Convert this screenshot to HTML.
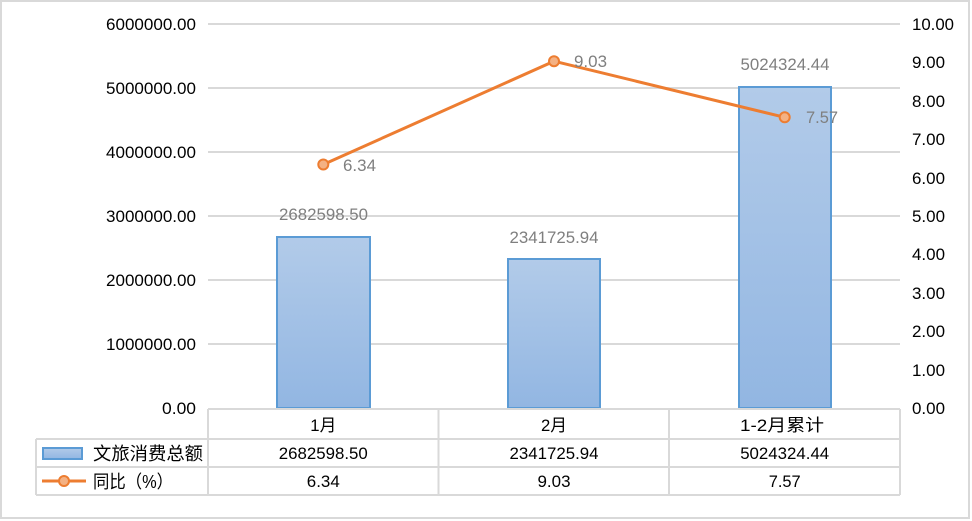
<!DOCTYPE html>
<html><head><meta charset="utf-8"><style>
html,body{margin:0;padding:0;background:#fff;}
svg{display:block;}
text{font-family:"Liberation Sans","Noto Sans CJK SC",sans-serif;}
</style></head><body>
<svg width="972" height="521" viewBox="0 0 972 521" xmlns="http://www.w3.org/2000/svg">
<defs>
<linearGradient id="g" x1="0" y1="0" x2="0" y2="1">
<stop offset="0" stop-color="#b2cbe9"/>
<stop offset="1" stop-color="#92b6e2"/>
</linearGradient>
</defs>
<rect x="1" y="1" width="968" height="517" fill="#fff" stroke="#d9d9d9" stroke-width="2"/>
<!-- gridlines -->
<g stroke="#d9d9d9" stroke-width="2">
<line x1="208" y1="24" x2="900" y2="24"/>
<line x1="208" y1="88" x2="900" y2="88"/>
<line x1="208" y1="152" x2="900" y2="152"/>
<line x1="208" y1="216" x2="900" y2="216"/>
<line x1="208" y1="280" x2="900" y2="280"/>
<line x1="208" y1="344" x2="900" y2="344"/>
</g>
<!-- left axis labels -->
<g font-size="17" fill="#000" text-anchor="end">
<text x="196" y="30" textLength="90" lengthAdjust="spacingAndGlyphs">6000000.00</text>
<text x="196" y="94" textLength="90" lengthAdjust="spacingAndGlyphs">5000000.00</text>
<text x="196" y="158" textLength="90" lengthAdjust="spacingAndGlyphs">4000000.00</text>
<text x="196" y="222" textLength="90" lengthAdjust="spacingAndGlyphs">3000000.00</text>
<text x="196" y="286" textLength="90" lengthAdjust="spacingAndGlyphs">2000000.00</text>
<text x="196" y="350" textLength="90" lengthAdjust="spacingAndGlyphs">1000000.00</text>
<text x="196" y="414" textLength="34" lengthAdjust="spacingAndGlyphs">0.00</text>
</g>
<!-- right axis labels -->
<g font-size="17" fill="#000" text-anchor="start">
<text x="912" y="30" textLength="42" lengthAdjust="spacingAndGlyphs">10.00</text>
<text x="912" y="68" textLength="33" lengthAdjust="spacingAndGlyphs">9.00</text>
<text x="912" y="107" textLength="33" lengthAdjust="spacingAndGlyphs">8.00</text>
<text x="912" y="145" textLength="33" lengthAdjust="spacingAndGlyphs">7.00</text>
<text x="912" y="184" textLength="33" lengthAdjust="spacingAndGlyphs">6.00</text>
<text x="912" y="222" textLength="33" lengthAdjust="spacingAndGlyphs">5.00</text>
<text x="912" y="260" textLength="33" lengthAdjust="spacingAndGlyphs">4.00</text>
<text x="912" y="299" textLength="33" lengthAdjust="spacingAndGlyphs">3.00</text>
<text x="912" y="337" textLength="33" lengthAdjust="spacingAndGlyphs">2.00</text>
<text x="912" y="376" textLength="33" lengthAdjust="spacingAndGlyphs">1.00</text>
<text x="912" y="414" textLength="33" lengthAdjust="spacingAndGlyphs">0.00</text>
</g>
<!-- bars -->
<g stroke="#5b9bd5" stroke-width="2" fill="url(#g)">
<rect x="277" y="237" width="93" height="171"/>
<rect x="508" y="259" width="92" height="149"/>
<rect x="739" y="87" width="92" height="321"/>
</g>
<!-- bar labels -->
<g font-size="17" fill="#7f7f7f" text-anchor="middle">
<text x="323.5" y="220" textLength="89" lengthAdjust="spacingAndGlyphs">2682598.50</text>
<text x="554" y="243" textLength="89" lengthAdjust="spacingAndGlyphs">2341725.94</text>
<text x="785" y="70" textLength="89" lengthAdjust="spacingAndGlyphs">5024324.44</text>
</g>
<!-- line -->
<polyline points="323.3,164.5 554,61.2 784.7,117.3" fill="none" stroke="#ed7d31" stroke-width="3"/>
<g fill="#f4b183" stroke="#ed7d31" stroke-width="2">
<circle cx="323.3" cy="164.5" r="5"/>
<circle cx="554" cy="61.2" r="5"/>
<circle cx="784.7" cy="117.3" r="5"/>
</g>
<g font-size="17" fill="#7f7f7f">
<text x="343" y="171" textLength="33" lengthAdjust="spacingAndGlyphs">6.34</text>
<text x="574" y="67" textLength="33" lengthAdjust="spacingAndGlyphs">9.03</text>
<text x="806" y="123" textLength="32" lengthAdjust="spacingAndGlyphs">7.57</text>
</g>
<!-- data table -->
<g stroke="#d9d9d9" stroke-width="2" fill="none">
<line x1="208" y1="409" x2="900" y2="409"/>
<line x1="36" y1="439" x2="900" y2="439"/>
<line x1="36" y1="467" x2="900" y2="467"/>
<line x1="36" y1="495" x2="900" y2="495"/>
<line x1="36" y1="439" x2="36" y2="495"/>
<line x1="208" y1="409" x2="208" y2="495"/>
<line x1="438.5" y1="409" x2="438.5" y2="495"/>
<line x1="669" y1="409" x2="669" y2="495"/>
<line x1="900" y1="409" x2="900" y2="495"/>
</g>
<g font-size="17" fill="#000" text-anchor="middle">
<text x="323.3" y="431" textLength="26" lengthAdjust="spacingAndGlyphs">1月</text>
<text x="554" y="431" textLength="26" lengthAdjust="spacingAndGlyphs">2月</text>
<text x="782" y="431" textLength="84" lengthAdjust="spacingAndGlyphs">1-2月累计</text>
<text x="323.3" y="459" textLength="89" lengthAdjust="spacingAndGlyphs">2682598.50</text>
<text x="554" y="459" textLength="89" lengthAdjust="spacingAndGlyphs">2341725.94</text>
<text x="784.7" y="459" textLength="89" lengthAdjust="spacingAndGlyphs">5024324.44</text>
<text x="323.3" y="487" textLength="33" lengthAdjust="spacingAndGlyphs">6.34</text>
<text x="554" y="487" textLength="33" lengthAdjust="spacingAndGlyphs">9.03</text>
<text x="784.7" y="487" textLength="32" lengthAdjust="spacingAndGlyphs">7.57</text>
</g>
<!-- legend -->
<rect x="43" y="448" width="39" height="11" fill="url(#g)" stroke="#5b9bd5" stroke-width="2"/>
<line x1="42" y1="481" x2="86" y2="481" stroke="#ed7d31" stroke-width="3"/>
<circle cx="64" cy="481" r="5" fill="#f4b183" stroke="#ed7d31" stroke-width="2"/>
<g font-size="18" fill="#000">
<text x="93" y="460" textLength="110" lengthAdjust="spacingAndGlyphs">文旅消费总额</text>
<text x="93" y="488" textLength="80" lengthAdjust="spacingAndGlyphs">同比（%）</text>
</g>
</svg>
</body></html>
